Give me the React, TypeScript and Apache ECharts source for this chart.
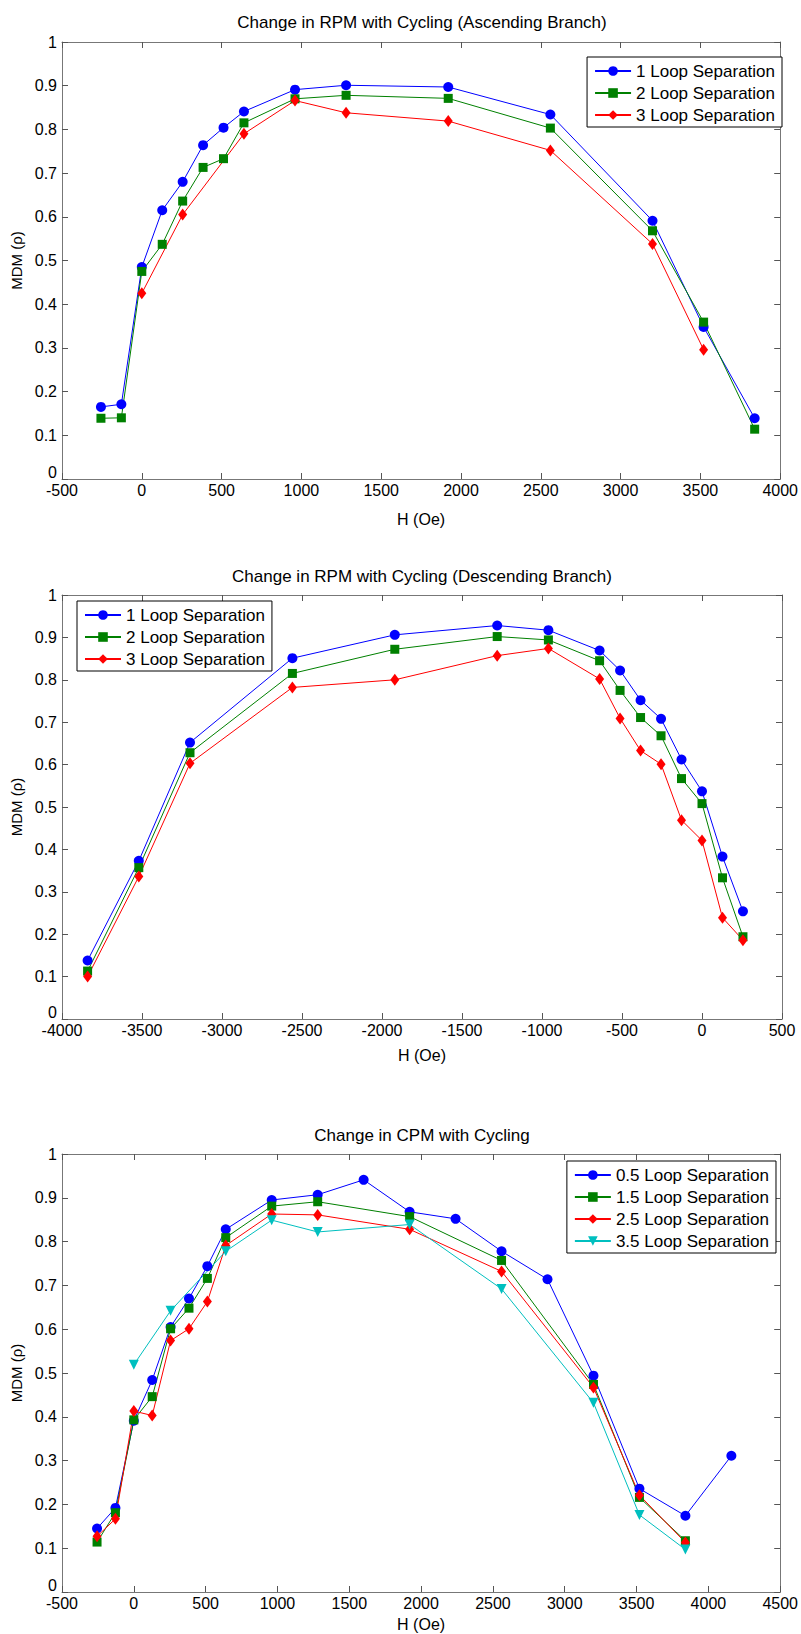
import React, { useEffect, useRef } from "react";
import * as echarts from "echarts";

// ---------- Data ----------
// Chart 1: ascending branch
const ascX = [-256, -128, 0, 128, 256, 384, 512, 640, 960, 1280, 1920, 2560, 3200, 3520, 3840];
const asc1 = [0.165, 0.171, 0.485, 0.615, 0.68, 0.764, 0.804, 0.841, 0.891, 0.901, 0.897, 0.834, 0.591, 0.348, 0.139];
const asc2 = [0.139, 0.14, 0.475, 0.537, 0.636, 0.713, 0.733, 0.815, 0.87, 0.878, 0.871, 0.803, 0.568, 0.359, 0.114];
const asc3X = [0, 256, 640, 960, 1280, 1920, 2560, 3200, 3520];
const asc3 = [0.425, 0.605, 0.79, 0.866, 0.838, 0.819, 0.752, 0.538, 0.296];

// Chart 2: descending branch
const descX = [-3840, -3520, -3200, -2560, -1920, -1280, -960, -640, -512, -384, -256, -128, 0, 128, 256];
const desc1 = [0.138, 0.373, 0.652, 0.851, 0.906, 0.928, 0.917, 0.869, 0.822, 0.752, 0.708, 0.612, 0.537, 0.383, 0.254];
const desc2 = [0.113, 0.357, 0.628, 0.815, 0.872, 0.902, 0.894, 0.845, 0.775, 0.711, 0.668, 0.567, 0.508, 0.333, 0.194];
const desc3 = [0.1, 0.336, 0.603, 0.782, 0.8, 0.857, 0.874, 0.802, 0.709, 0.633, 0.601, 0.469, 0.421, 0.239, 0.186];

// Chart 3: CPM
const cpm05X = [-256, -128, 0, 128, 256, 384, 512, 640, 960, 1280, 1600, 1920, 2240, 2560, 2880, 3200, 3520, 3840, 4160];
const cpm05 = [0.145, 0.192, 0.391, 0.484, 0.605, 0.67, 0.744, 0.828, 0.895, 0.907, 0.941, 0.868, 0.852, 0.778, 0.714, 0.494, 0.236, 0.174, 0.311];
const cpmX = [-256, -128, 0, 128, 256, 384, 512, 640, 960, 1280, 1920, 2560, 3200, 3520, 3840];
const cpm15 = [0.114, 0.181, 0.393, 0.446, 0.601, 0.648, 0.716, 0.809, 0.881, 0.891, 0.857, 0.757, 0.474, 0.216, 0.117];
const cpm25 = [0.127, 0.167, 0.413, 0.403, 0.574, 0.601, 0.663, 0.791, 0.863, 0.861, 0.828, 0.732, 0.467, 0.221, 0.113];
const cpm35X = [0, 256, 640, 960, 1280, 1920, 2560, 3200, 3520, 3840];
const cpm35 = [0.519, 0.642, 0.778, 0.849, 0.822, 0.839, 0.692, 0.432, 0.176, 0.097];

const titles = [
  "Change in RPM with Cycling (Ascending Branch)",
  "Change in RPM with Cycling (Descending Branch)",
  "Change in CPM with Cycling",
];
const xRanges = [
  [-500, 4000],
  [-4000, 500],
  [-500, 4500],
];
const xName = "H (Oe)";
const yName = "MDM (\u03C1)";

// ---------- Styles ----------
const FONT = "Arial, 'Liberation Sans', Helvetica, sans-serif";
const BLUE = "#0000ff";
const GREEN = "#008000";
const RED = "#ff0000";
const CYAN = "#00bfbf";

const grids = [
  { top: 42, height: 437 },
  { top: 595, height: 424 },
  { top: 1154, height: 438 },
];
const titleTops = [14, 568, 1127];
const xNameGaps = [32, 28, 24];

function pairs(xs: number[], ys: number[]) {
  return xs.map((x, i) => [x, ys[i]]);
}

type Mk = { symbol: string; size: any; rotate?: number };
const MK: Record<string, Mk> = {
  circle: { symbol: "circle", size: 10 },
  square: { symbol: "rect", size: 9 },
  diamond: { symbol: "diamond", size: [9, 12] },
  tri: { symbol: "triangle", size: 10, rotate: 180 },
};

function line(name: string, data: number[][], color: string, mk: Mk, gi: number) {
  return {
    type: "line",
    name,
    data,
    xAxisIndex: gi * 2,
    yAxisIndex: gi * 2,
    symbol: mk.symbol,
    symbolSize: mk.size,
    symbolRotate: mk.rotate || 0,
    showSymbol: true,
    showAllSymbol: true,
    color,
    lineStyle: { color, width: 1 },
    itemStyle: { color, borderWidth: 0 },
    emphasis: { disabled: true },
    clip: false,
  };
}

const plain = (v: number) => String(Math.round(v * 1000) / 1000);
const yFmt = (v: number) => (v === 0 ? "{z|0}" : plain(v));

export default function App() {
  const ref = useRef<HTMLDivElement>(null);

  useEffect(() => {
    if (!ref.current) return;
    const chart = echarts.init(ref.current, undefined, { renderer: "svg" });

    const axisLine = { show: true, onZero: false, lineStyle: { color: "#777", width: 1 } };
    const axisTick = { show: true, inside: true, length: 6, lineStyle: { color: "#555" } };

    const xAxes: any[] = [];
    const yAxes: any[] = [];
    grids.forEach((g, i) => {
      const [mn, mx] = xRanges[i];
      xAxes.push({
        type: "value",
        gridIndex: i,
        position: "bottom",
        min: mn,
        max: mx,
        interval: 500,
        name: xName,
        nameLocation: "middle",
        nameGap: xNameGaps[i],
        nameTextStyle: { fontSize: 16, color: "#000", fontFamily: FONT },
        axisLine,
        axisTick,
        axisLabel: { fontSize: 16, color: "#000", margin: 3, fontFamily: FONT, formatter: plain },
        splitLine: { show: false },
      });
      xAxes.push({
        type: "value",
        gridIndex: i,
        position: "top",
        min: mn,
        max: mx,
        interval: 500,
        axisLine,
        axisTick,
        axisLabel: { show: false },
        splitLine: { show: false },
      });
      yAxes.push({
        type: "value",
        gridIndex: i,
        position: "left",
        min: 0,
        max: 1,
        interval: 0.1,
        name: yName,
        nameLocation: "middle",
        nameGap: 34,
        nameTextStyle: { fontSize: 15, color: "#000", fontFamily: FONT },
        axisLine,
        axisTick,
        axisLabel: {
          fontSize: 16,
          color: "#000",
          margin: 5,
          fontFamily: FONT,
          formatter: yFmt,
          rich: { z: { fontSize: 16, color: "#000", fontFamily: FONT, padding: [0, 0, 14, 0] } },
        },
        splitLine: { show: false },
      });
      yAxes.push({
        type: "value",
        gridIndex: i,
        position: "right",
        min: 0,
        max: 1,
        interval: 0.1,
        axisLine,
        axisTick,
        axisLabel: { show: false },
        splitLine: { show: false },
      });
    });

    const legendBase = {
      orient: "vertical",
      backgroundColor: "#fff",
      borderColor: "#000",
      borderWidth: 1,
      borderRadius: 0,
      padding: [5, 7, 3, 7],
      itemWidth: 36,
      itemHeight: 12,
      itemGap: 4,
      selectedMode: false,
      textStyle: { fontSize: 17, lineHeight: 18, color: "#000", fontFamily: FONT },
    };

    const option: any = {
      animation: false,
      backgroundColor: "#fff",
      title: titles.map((t, i) => ({
        text: t,
        left: 422,
        top: titleTops[i],
        textAlign: "center",
        padding: 0,
        textStyle: { fontSize: 17, fontWeight: "normal", color: "#000", fontFamily: FONT },
      })),
      grid: grids.map((g) => ({ left: 62, right: 19, top: g.top, height: g.height })),
      xAxis: xAxes,
      yAxis: yAxes,
      legend: [
        {
          ...legendBase,
          right: 19,
          top: 57,
          data: ["1 Loop Separation", "2 Loop Separation", "3 Loop Separation"],
        },
        {
          ...legendBase,
          left: 77,
          top: 601,
          data: ["1 Loop Separation ", "2 Loop Separation ", "3 Loop Separation "],
          formatter: (n: string) => n.trim(),
        },
        {
          ...legendBase,
          right: 25,
          top: 1161,
          data: ["0.5 Loop Separation", "1.5 Loop Separation", "2.5 Loop Separation", "3.5 Loop Separation"],
        },
      ],
      series: [
        line("1 Loop Separation", pairs(ascX, asc1), BLUE, MK.circle, 0),
        line("2 Loop Separation", pairs(ascX, asc2), GREEN, MK.square, 0),
        line("3 Loop Separation", pairs(asc3X, asc3), RED, MK.diamond, 0),
        line("1 Loop Separation ", pairs(descX, desc1), BLUE, MK.circle, 1),
        line("2 Loop Separation ", pairs(descX, desc2), GREEN, MK.square, 1),
        line("3 Loop Separation ", pairs(descX, desc3), RED, MK.diamond, 1),
        line("0.5 Loop Separation", pairs(cpm05X, cpm05), BLUE, MK.circle, 2),
        line("1.5 Loop Separation", pairs(cpmX, cpm15), GREEN, MK.square, 2),
        line("2.5 Loop Separation", pairs(cpmX, cpm25), RED, MK.diamond, 2),
        line("3.5 Loop Separation", pairs(cpm35X, cpm35), CYAN, MK.tri, 2),
      ],
    };

    chart.setOption(option);
    return () => chart.dispose();
  }, []);

  return (
    <div
      ref={ref}
      style={{ position: "absolute", left: 0, top: 0, width: 801, height: 1634, background: "#fff" }}
    />
  );
}
